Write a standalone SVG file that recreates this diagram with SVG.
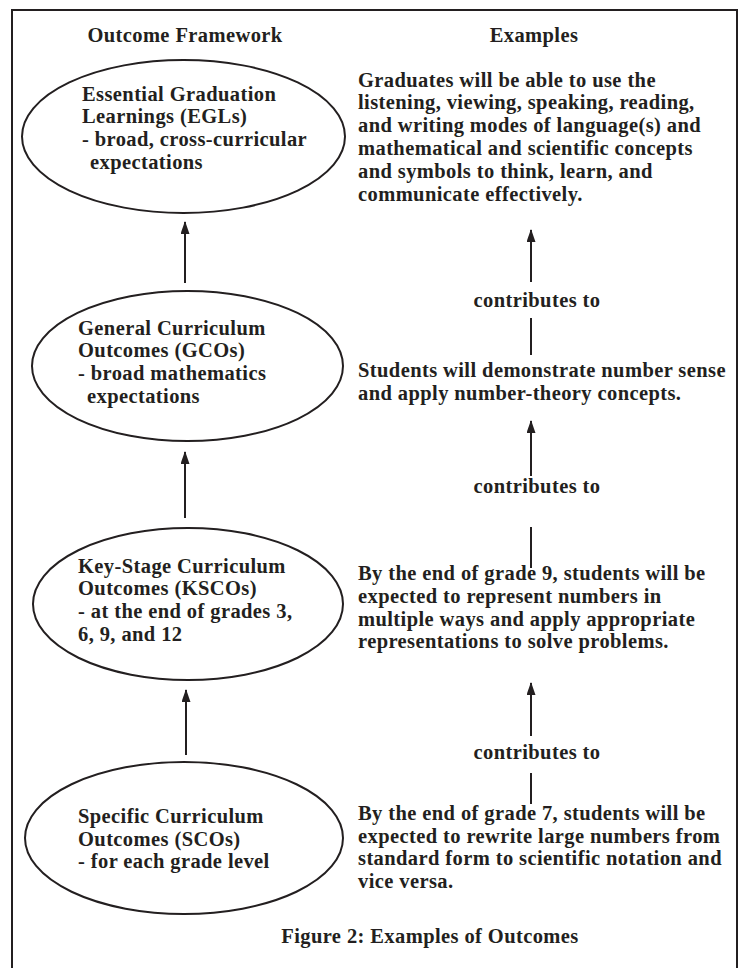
<svg xmlns="http://www.w3.org/2000/svg" width="739" height="968" viewBox="0 0 739 968">
<defs>
<style>
text{font-family:"Liberation Serif","Times New Roman",serif;font-weight:bold;font-size:20.5px;letter-spacing:0.4px;fill:#231f20}
.c{text-anchor:middle}
.node ellipse{fill:none;stroke:#231f20;stroke-width:2}
.conn line{stroke:#231f20;stroke-width:2;fill:none}
</style>
<marker id="ah" markerUnits="userSpaceOnUse" markerWidth="14" markerHeight="10" refX="12" refY="4.5" orient="auto">
<path d="M0,0 L13,4.5 L0,9 Z" fill="#231f20"/>
</marker>
</defs>
<rect x="12" y="10" width="725" height="1000" fill="none" stroke="#231f20" stroke-width="2"/>
<text class="c" x="185" y="42">Outcome Framework</text>
<text class="c" x="534" y="42">Examples</text>

<g id="egl" class="node">
<ellipse cx="183.5" cy="136.5" rx="161.5" ry="76.5"/>
<text x="82" y="100.6">Essential Graduation</text>
<text x="82" y="123.4">Learnings (EGLs)</text>
<text x="82" y="146.2">- broad, cross-curricular</text>
<text x="90" y="169">expectations</text>
</g>
<g id="gco" class="node">
<ellipse cx="187.5" cy="366" rx="155.5" ry="75"/>
<text x="78" y="334.6">General Curriculum</text>
<text x="78" y="357.4">Outcomes (GCOs)</text>
<text x="78" y="380.2">- broad mathematics</text>
<text x="87" y="403">expectations</text>
</g>
<g id="ksco" class="node">
<ellipse cx="188" cy="604" rx="155" ry="76"/>
<text x="78" y="572.6">Key-Stage Curriculum</text>
<text x="78" y="595.4">Outcomes (KSCOs)</text>
<text x="78" y="618.2">- at the end of grades 3,</text>
<text x="78" y="641">6, 9, and 12</text>
</g>
<g id="sco" class="node">
<ellipse cx="184" cy="838" rx="159" ry="76"/>
<text x="78" y="822.7">Specific Curriculum</text>
<text x="78" y="845.5">Outcomes (SCOs)</text>
<text x="78" y="868.3">- for each grade level</text>
</g>

<g id="ex-egl">
<text x="358" y="86.5">Graduates will be able to use the</text>
<text x="358" y="109.3">listening, viewing, speaking, reading,</text>
<text x="358" y="132.1">and writing modes of language(s) and</text>
<text x="358" y="154.9">mathematical and scientific concepts</text>
<text x="358" y="177.7">and symbols to think, learn, and</text>
<text x="358" y="200.5">communicate effectively.</text>
</g>
<g id="ex-gco">
<text x="358" y="377">Students will demonstrate number sense</text>
<text x="358" y="399.8">and apply number-theory concepts.</text>
</g>
<g id="ex-ksco">
<text x="358" y="580">By the end of grade 9, students will be</text>
<text x="358" y="602.8">expected to represent numbers in</text>
<text x="358" y="625.6">multiple ways and apply appropriate</text>
<text x="358" y="648.4">representations to solve problems.</text>
</g>
<g id="ex-sco">
<text x="358" y="819.8">By the end of grade 7, students will be</text>
<text x="358" y="842.6">expected to rewrite large numbers from</text>
<text x="358" y="865.4">standard form to scientific notation and</text>
<text x="358" y="888.2">vice versa.</text>
</g>

<g id="connectors" class="conn">
<line x1="185" y1="283" x2="185" y2="222" marker-end="url(#ah)"/>
<line x1="185" y1="518" x2="185" y2="452" marker-end="url(#ah)"/>
<line x1="186" y1="755" x2="186" y2="690" marker-end="url(#ah)"/>
<line x1="531" y1="282" x2="531" y2="230" marker-end="url(#ah)"/>
<line x1="531" y1="318" x2="531" y2="355"/>
<line x1="531" y1="476" x2="531" y2="421" marker-end="url(#ah)"/>
<line x1="531" y1="527" x2="531" y2="568"/>
<line x1="531" y1="736" x2="531" y2="683" marker-end="url(#ah)"/>
<line x1="531" y1="773" x2="531" y2="804"/>
<text class="c" x="537" y="307">contributes to</text>
<text class="c" x="537" y="493">contributes to</text>
<text class="c" x="537" y="759">contributes to</text>
</g>
<text class="c" x="430" y="943">Figure 2: Examples of Outcomes</text>
</svg>
